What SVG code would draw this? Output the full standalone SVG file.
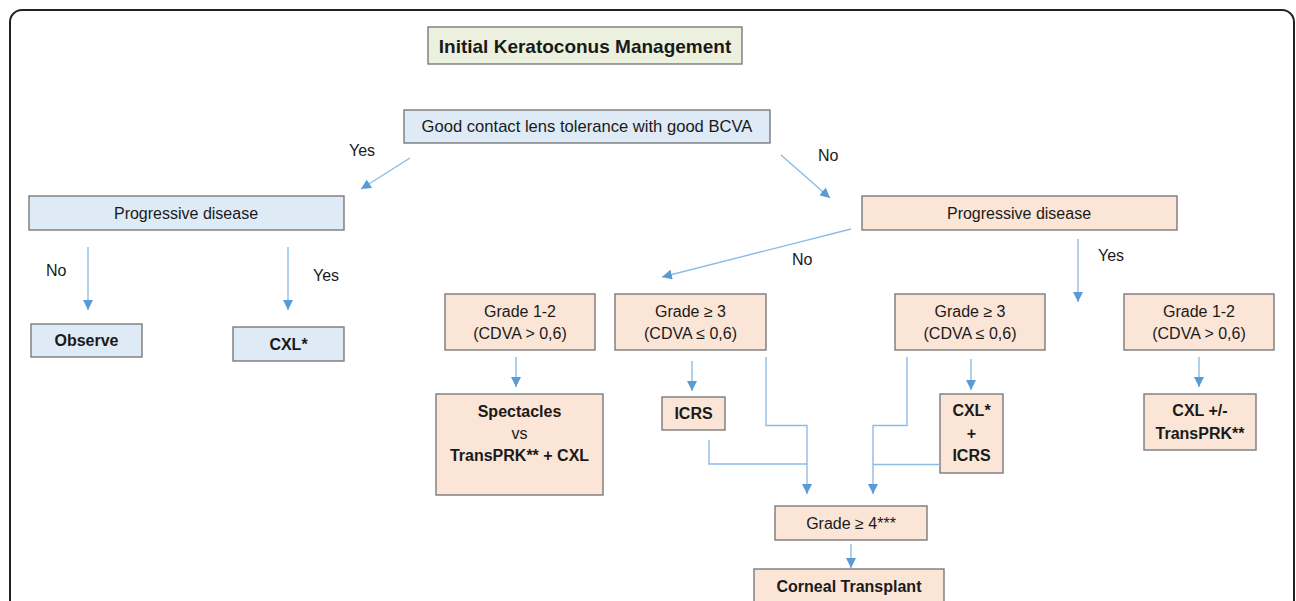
<svg xmlns="http://www.w3.org/2000/svg" width="1296" height="601" viewBox="0 0 1296 601">
<style>
text{font-family:"Liberation Sans",Arial,sans-serif;font-size:16px;fill:#1a1a1a}
.b{font-weight:bold}
.c{text-anchor:middle}
.t{font-size:19px;font-weight:bold;text-anchor:middle}
.box{stroke:#7a7a7a;stroke-width:1.4}
.blue{fill:#deebf7}
.peach{fill:#fbe5d6}
.green{fill:#ebf1de}
.con{fill:none;stroke:#8dbbe6;stroke-width:1.4}
.arr{marker-end:url(#ah)}
</style>
<defs>
<marker id="ah" viewBox="0 0 10 10" refX="10" refY="5" markerWidth="10" markerHeight="10" markerUnits="userSpaceOnUse" orient="auto">
<path d="M0,0 L10,5 L0,10 z" fill="#5b9bd5"/>
</marker>
</defs>
<rect x="0" y="0" width="1296" height="601" fill="#ffffff"/>
<rect id="frame" x="10" y="10" width="1284" height="620" rx="12" ry="12" fill="none" stroke="#222" stroke-width="2"/>

<g id="title"><rect class="box green" x="428" y="27" width="314" height="37"/><text class="t" x="585" y="52.5">Initial Keratoconus Management</text></g>
<g id="n-contact"><rect class="box blue" x="404" y="110" width="366" height="33"/><text class="c" x="587" y="132" style="font-size:16.6px">Good contact lens tolerance with good BCVA</text></g>
<g id="n-prog-left"><rect class="box blue" x="29" y="196" width="315" height="34"/><text class="c" x="186" y="218.5">Progressive disease</text></g>
<g id="n-prog-right"><rect class="box peach" x="862" y="196" width="315" height="34"/><text class="c" x="1019" y="218.5">Progressive disease</text></g>
<g id="n-observe"><rect class="box blue" x="31" y="324" width="111" height="33"/><text class="c b" x="86.5" y="346">Observe</text></g>
<g id="n-cxl"><rect class="box blue" x="233" y="327" width="111" height="34"/><text class="c b" x="288.5" y="349.5">CXL*</text></g>
<g id="n-g12-left"><rect class="box peach" x="445" y="294" width="150" height="56"/><text class="c" x="520" y="316.5">Grade 1-2</text><text class="c" x="520" y="338.5">(CDVA &gt; 0,6)</text></g>
<g id="n-g3-left"><rect class="box peach" x="615" y="294" width="151" height="56"/><text class="c" x="690.5" y="316.5">Grade ≥ 3</text><text class="c" x="690.5" y="338.5">(CDVA ≤ 0,6)</text></g>
<g id="n-g3-right"><rect class="box peach" x="895" y="294" width="150" height="56"/><text class="c" x="970" y="316.5">Grade ≥ 3</text><text class="c" x="970" y="338.5">(CDVA ≤ 0,6)</text></g>
<g id="n-g12-right"><rect class="box peach" x="1124" y="294" width="150" height="56"/><text class="c" x="1199" y="316.5">Grade 1-2</text><text class="c" x="1199" y="338.5">(CDVA &gt; 0,6)</text></g>
<g id="n-spectacles"><rect class="box peach" x="436" y="394" width="167" height="101"/><text class="c b" x="519.5" y="416.5">Spectacles</text><text class="c" x="519.5" y="438.5">vs</text><text class="c b" x="519.5" y="460.5">TransPRK** + CXL</text></g>
<g id="n-icrs"><rect class="box peach" x="662" y="397" width="63" height="33"/><text class="c b" x="693.5" y="419">ICRS</text></g>
<g id="n-cxl-icrs"><rect class="box peach" x="940" y="394" width="63" height="79"/><text class="c b" x="971.5" y="416">CXL*</text><text class="c b" x="971.5" y="438.5">+</text><text class="c b" x="971.5" y="461">ICRS</text></g>
<g id="n-cxl-trans"><rect class="box peach" x="1144" y="394" width="112" height="56"/><text class="c b" x="1200" y="416">CXL +/-</text><text class="c b" x="1200" y="438.5">TransPRK**</text></g>
<g id="n-g4"><rect class="box peach" x="775" y="506" width="152" height="34"/><text class="c" x="851" y="528.5">Grade ≥ 4***</text></g>
<g id="n-transplant"><rect class="box peach" x="754" y="569" width="190" height="40"/><text class="c b" x="849" y="592">Corneal Transplant</text></g>

<g id="labels">
<text x="349" y="156">Yes</text>
<text x="818" y="161">No</text>
<text x="46" y="276">No</text>
<text x="313" y="281">Yes</text>
<text x="792" y="265">No</text>
<text x="1098" y="261">Yes</text>
</g>

<g id="connectors">
<line class="con arr" x1="410" y1="158" x2="361" y2="189"/>
<line class="con arr" x1="781" y1="155" x2="830" y2="198"/>
<line class="con arr" x1="88" y1="247" x2="88" y2="310"/>
<line class="con arr" x1="288" y1="247" x2="288" y2="310"/>
<line class="con arr" x1="851" y1="229" x2="662" y2="277"/>
<line class="con arr" x1="1078" y1="239" x2="1078" y2="302"/>
<line class="con arr" x1="516" y1="357" x2="516" y2="387"/>
<line class="con arr" x1="692" y1="361" x2="692" y2="391"/>
<line class="con arr" x1="971" y1="359" x2="971" y2="390"/>
<line class="con arr" x1="1199" y1="357" x2="1199" y2="387"/>
<polyline class="con arr" points="766,357 766,425.5 807,425.5 807,494"/>
<polyline class="con" points="709,440 709,464 807,464"/>
<polyline class="con arr" points="907,357 907,425.5 873,425.5 873,494"/>
<line class="con" x1="940" y1="464.5" x2="873" y2="464.5"/>
<line class="con arr" x1="851" y1="544" x2="851" y2="568"/>
</g>
</svg>
